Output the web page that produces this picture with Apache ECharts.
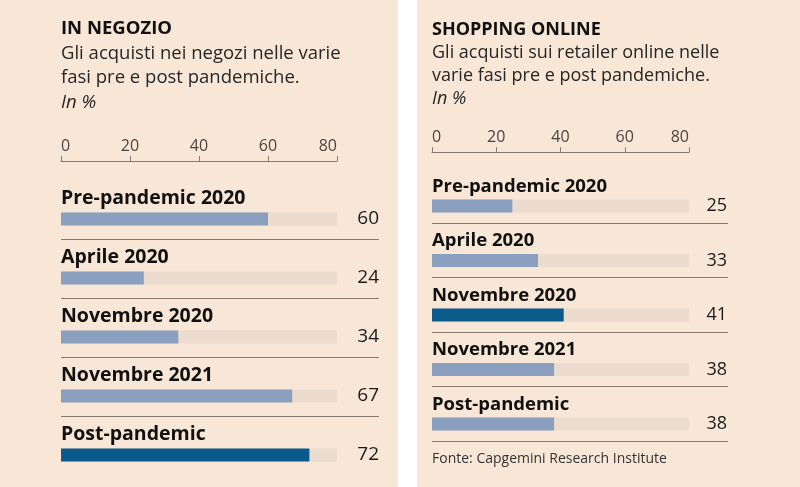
<!DOCTYPE html>
<html>
<head>
<meta charset="utf-8">
<script src="https://cdn.jsdelivr.net/npm/echarts@6/dist/echarts.min.js"></script>
<style>
  html, body { margin: 0; padding: 0; background: #ffffff; }
  #chart { width: 800px; height: 487px; }
</style>
</head>
<body>
<div id="chart"></div>
<script>
// ---- Data ----
const leftTitle = 'IN NEGOZIO';
const leftSubtitle = ['Gli acquisti nei negozi nelle varie', 'fasi pre e post pandemiche.'];
const leftCategories = ['Pre-pandemic 2020', 'Aprile 2020', 'Novembre 2020', 'Novembre 2021', 'Post-pandemic'];
const leftValues = [60, 24, 34, 67, 72];
const leftHighlight = 4;

const rightTitle = 'SHOPPING ONLINE';
const rightSubtitle = ['Gli acquisti sui retailer online nelle', 'varie fasi pre e post pandemiche.'];
const rightCategories = ['Pre-pandemic 2020', 'Aprile 2020', 'Novembre 2020', 'Novembre 2021', 'Post-pandemic'];
const rightValues = [25, 33, 41, 38, 38];
const rightHighlight = 2;

const unitLabel = 'In %';
const tickValues = [0, 20, 40, 60, 80];
const sourceText = 'Fonte: Capgemini Research Institute';

// ---- Styles ----
const BG = '#f8e7d7';
const TRACK = '#ebdccf';
const BAR = '#8aa0be';
const BAR_HI = '#0b5a8c';
const RULE = '#857a70';
const TEXT = '#1b1b1b';
const FONT = '"Open Sans", Roboto, sans-serif';

const chart = echarts.init(document.getElementById('chart'));

function titleText(title, sub, unit) {
  return '{t|' + title + '}\n' + sub.map(s => '{s|' + s + '}').join('\n') + '\n{i|' + unit + '}';
}
function titleRich(lh, size) {
  return {
    t: { fontFamily: FONT, fontWeight: 'bold', fontSize: size, color: '#111', lineHeight: lh },
    s: { fontFamily: FONT, fontWeight: 'normal', fontSize: size, color: '#262626', lineHeight: lh },
    i: { fontFamily: FONT, fontWeight: 'normal', fontStyle: 'italic', fontSize: size, color: '#262626', lineHeight: lh }
  };
}

const tMin = tickValues[0], tMax = tickValues[tickValues.length - 1], tInt = tickValues[1] - tickValues[0];

function panel(idx, g, cats, vals, hi, opt) {
  const barGrid = { left: g.left, width: g.width, top: g.barTop, height: g.height, containLabel: false };
  const bandGrid = { left: g.left, width: g.ruleWidth, top: g.bandTop, height: g.height, containLabel: false };
  const xAxes = [
    {
      gridIndex: 2 * idx, type: 'value', min: tMin, max: tMax, interval: tInt,
      position: 'top', offset: g.axisOffset,
      axisLine: { show: true, lineStyle: { color: RULE, width: 1 } },
      axisTick: { show: true, length: 5, lineStyle: { color: RULE } },
      axisLabel: {
        show: true, margin: 7, fontFamily: FONT, fontSize: opt.tickSize, color: '#4a4440',
        alignMinLabel: 'left', alignMaxLabel: 'right'
      },
      splitLine: { show: false }
    },
    { gridIndex: 2 * idx + 1, type: 'value', min: 0, max: 1, show: false }
  ];
  const yAxes = [
    {
      gridIndex: 2 * idx, type: 'category', inverse: true, data: cats,
      axisLine: { show: false }, axisTick: { show: false }, splitLine: { show: false },
      axisLabel: {
        inside: true, margin: 0, verticalAlign: 'bottom', padding: [0, 0, opt.namePad, 0],
        fontFamily: FONT, fontWeight: 'bold', fontSize: opt.nameSize, color: '#111'
      }
    },
    {
      gridIndex: 2 * idx, type: 'category', inverse: true, position: 'right',
      data: vals.map(v => String(v)),
      axisLine: { show: false }, axisTick: { show: false }, splitLine: { show: false },
      axisLabel: { margin: g.valueMargin, align: 'right', fontFamily: FONT, fontSize: opt.valueSize, color: TEXT }
    },
    {
      gridIndex: 2 * idx + 1, type: 'category', inverse: true, data: cats,
      axisLine: { show: false }, axisTick: { show: false }, axisLabel: { show: false },
      splitLine: { show: true, showMinLine: false, showMaxLine: opt.maxLine, lineStyle: { color: RULE, width: 1 } }
    }
  ];
  return { grids: [barGrid, bandGrid], xAxes, yAxes, vals, hi };
}

const L = panel(0, { left: 61, width: 276, ruleWidth: 318, barTop: 189.5, bandTop: 180, height: 295, axisOffset: 28.5, valueMargin: 42 },
  leftCategories, leftValues, leftHighlight, { tickSize: 16, nameSize: 19.5, valueSize: 19, namePad: 11, maxLine: false });
const R = panel(1, { left: 432, width: 257, ruleWidth: 296, barTop: 178.75, bandTop: 168.5, height: 272.5, axisOffset: 26.5, valueMargin: 38 },
  rightCategories, rightValues, rightHighlight, { tickSize: 16, nameSize: 18.5, valueSize: 18, namePad: 10, maxLine: true });

function barSeries(p, xIdx, yIdx) {
  return {
    type: 'bar', xAxisIndex: xIdx, yAxisIndex: yIdx, barWidth: 13,
    showBackground: true, backgroundStyle: { color: TRACK },
    data: p.vals.map((v, i) => ({ value: v, itemStyle: { color: i === p.hi ? BAR_HI : BAR } })),
    silent: true, animation: false
  };
}

const option = {
  backgroundColor: '#ffffff',
  animation: false,
  graphic: [
    { type: 'rect', z: -10, shape: { x: 0, y: 0, width: 398, height: 487 }, style: { fill: BG } },
    { type: 'rect', z: -10, shape: { x: 417, y: 0, width: 383, height: 487 }, style: { fill: BG } }
  ],
  title: [
    { left: 61, top: 17, padding: 0, text: titleText(leftTitle, leftSubtitle, unitLabel), textStyle: { rich: titleRich(24.4, 18.5) } },
    { left: 432, top: 18, padding: 0, text: titleText(rightTitle, rightSubtitle, unitLabel), textStyle: { rich: titleRich(23, 18) } },
    { left: 432, top: 452, padding: 0, text: sourceText, textStyle: { fontFamily: FONT, fontSize: 14, fontWeight: 'normal', color: '#333' } }
  ],
  grid: [...L.grids, ...R.grids],
  xAxis: [...L.xAxes, ...R.xAxes],
  yAxis: [...L.yAxes, ...R.yAxes],
  series: [
    barSeries(L, 0, 0),
    barSeries(R, 2, 3)
  ]
};
chart.setOption(option);
</script>
</body>
</html>
